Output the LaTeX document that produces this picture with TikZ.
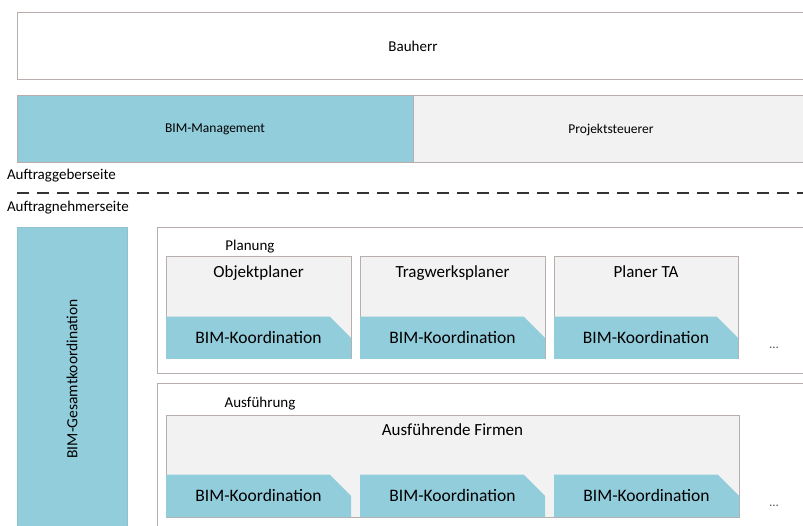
\documentclass[tikz,border=0pt]{standalone}
\usepackage{fontspec}
\setmainfont{Carlito}
\usetikzlibrary{positioning,shapes.misc}
\definecolor{bimblue}{HTML}{92CDDC}
\definecolor{boxgray}{HTML}{F2F2F2}
\definecolor{edgegray}{HTML}{B8AFAC}
\newcommand{\fs}[1]{\fontsize{#1}{#1}\selectfont}

\begin{document}
\begin{tikzpicture}[x=1pt, y=-1pt]
\useasboundingbox (0,0) rectangle (803,526);
\tikzstyle{every node} = [inner sep=0pt, outer sep=0pt, text=black]
\tikzstyle{frame} = [draw=edgegray, line width=1pt, anchor=north west]
\tikzstyle{inbox} = [frame, fill=boxgray, minimum height=102]
\tikzstyle{title} = [font=\fs{17}]
\tikzstyle{tab} = [fill=bimblue, chamfered rectangle, chamfered rectangle corners=north east,
	chamfered rectangle xsep=16pt, chamfered rectangle ysep=15pt,
	minimum width=185, minimum height=33, anchor=south west, font=\fs{17.5}]
\tikzstyle{side} = [anchor=west, font=\fs{15}]
\node[frame, fill=white, minimum width=792, minimum height=67, font=\fs{15}] (bh) at (17,13) {Bauherr};
\node[frame, fill=bimblue, minimum width=396, minimum height=67, font=\fs{13.5}] (bm) at (17,96) {BIM-Management};
\node[frame, fill=boxgray, minimum width=396, minimum height=67, font=\fs{13.5}] (ps) at (413,96) {Projektsteuerer};
\node[side] (ag) at (7,176) {Auftraggeberseite};
\node[side] (an) at (7,208) {Auftragnehmerseite};
\coordinate (dl) at (17,193);
\coordinate (dr) at (803,193);
\draw[black!80, line width=1.8pt, dash pattern=on 12pt off 8pt] (dl) -- (dr);
\node[fill=bimblue, draw=bimblue!85!gray, rotate=90, minimum width=304, minimum height=110, font=\fs{15.5}] (gk) at (72,379) {BIM-Gesamtkoordination};
\node[frame, fill=white, minimum width=660, minimum height=146] (pl) at (157,228) {};
\node[side, anchor=center] (plt) at (250,247) {Planung};
\node[inbox, minimum width=185] (op) at (166,257) {};
\node[inbox, minimum width=185] (tw) at (360,257) {};
\node[inbox, minimum width=184] (ta) at (554,257) {};
\node[title, below=9pt of op.north] {Objektplaner};
\node[title, below=9pt of tw.north] {Tragwerksplaner};
\node[title, below=9pt of ta.north] {Planer TA};
\node[tab] (kop) at (op.south west) {BIM-Koordination};
\node[tab] (ktw) at (tw.south west) {BIM-Koordination};
\node[tab, minimum width=184] (kta) at (ta.south west) {BIM-Koordination};
\node[font=\fs{13}, text=black!65] (d1) at (774,348) {...};
\node[frame, fill=white, minimum width=660, minimum height=150] (af) at (157,384) {};
\node[side, anchor=center] (aft) at (260,404) {Ausführung};
\node[inbox, minimum width=573] (fi) at (166,415) {};
\node[title, below=9pt of fi.north] {Ausführende Firmen};
\node[tab] (kf1) at (fi.south west) {BIM-Koordination};
\node[tab] (kf2) at ([xshift=194pt]fi.south west) {BIM-Koordination};
\node[tab] (kf3) at ([xshift=388pt]fi.south west) {BIM-Koordination};
\node[font=\fs{13}, text=black!65] (d2) at (774,506) {...};
\end{tikzpicture}
\end{document}
